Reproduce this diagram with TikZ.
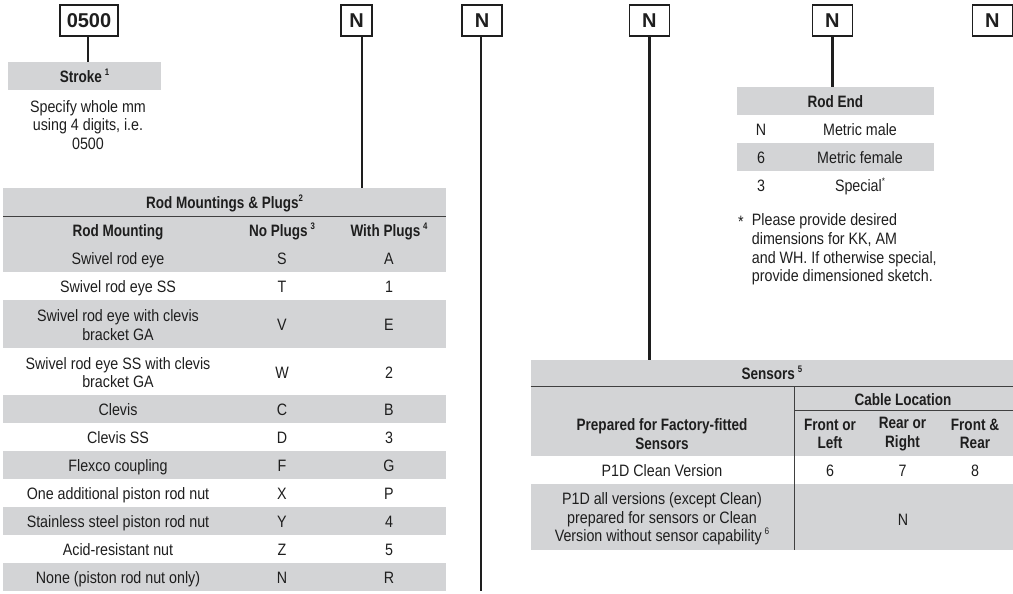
\documentclass[tikz,border=0pt]{standalone}
\usepackage{fontspec}
\setmainfont{Liberation Sans}[FakeStretch=0.865, BoldFeatures={FakeStretch=0.82}]
\newfontfamily\codefont{Liberation Sans}
\definecolor{cellgray}{RGB}{211,212,214}
\definecolor{ink}{RGB}{30,30,30}
\newcommand{\myup}[1]{\raisebox{0.45em}{\fontsize{9.5}{9.5}\selectfont #1}}
\tikzset{
  txt/.style={font=\fontsize{16.5}{18.6}\selectfont, text=ink, inner sep=0pt, align=center},
  btxt/.style={font=\fontsize{16.5}{18.6}\selectfont\bfseries, text=ink, inner sep=0pt, align=center},
  cell/.style={txt, text height=13pt, text depth=0pt},
  bcell/.style={btxt, text height=13pt, text depth=0pt},
  codebox/.style={draw=ink, line width=1.2pt, minimum height=31pt, inner sep=0pt, font=\codefont\fontsize{20}{22}\selectfont\bfseries, text=ink, text height=15pt, text depth=0pt},
  conn/.style={draw=ink, line width=2.6pt},
  sep/.style={draw=ink!85, line width=0.9pt},
  bar/.style={fill=cellgray, inner sep=0pt, bcell}
}
\begin{document}
\begin{tikzpicture}[x=1pt,y=-1pt]
\useasboundingbox (0,0) rectangle (1013,594);

% ---------- code boxes ----------
\node[codebox, minimum width=58pt] (b0500) at (89,20.5) {0500};
\node[codebox, minimum width=31pt] (bN1) at (356.5,20.5) {N};
\node[codebox, minimum width=40pt] (bN2) at (482,20.5) {N};
\node[codebox, minimum width=40pt] (bN3) at (649.3,20.5) {N};
\node[codebox, minimum width=40pt] (bN4) at (832.3,20.5) {N};
\node[codebox, minimum width=40pt] (bN5) at (992.3,20.5) {N};

% ---------- Stroke ----------
\node[bar, minimum width=153pt, minimum height=28pt] (stroke) at (84.5,76) {Stroke\,\myup{1}};
\node[txt] (strokeTxt) at (88,125) {Specify whole mm\\using 4 digits, i.e.\\0500};

% ---------- Rod mountings table ----------
\fill[cellgray] (3.3,188) rectangle (445.7,272);
\fill[cellgray] (3.3,300) rectangle (445.7,347.5);
\fill[cellgray] (3.3,395) rectangle (445.7,423);
\fill[cellgray] (3.3,451) rectangle (445.7,479);
\fill[cellgray] (3.3,507) rectangle (445.7,535);
\fill[cellgray] (3.3,563) rectangle (445.7,591);
\node[bcell, minimum width=442.4pt, minimum height=28pt] (rmtitle) at (224.5,202) {Rod Mountings \& Plugs\myup{2}};
\draw[sep] (rmtitle.south west) -- (rmtitle.south east);
\node[bcell] (h1) at (118,230) {Rod Mounting};
\node[bcell] (h2) at (282,230) {No Plugs\,\myup{3}};
\node[bcell] (h3) at (389,230) {With Plugs\,\myup{4}};

\node[cell] (r1a) at (118,258) {Swivel rod eye};
\node[cell] (r1b) at (282,258) {S};
\node[cell] (r1c) at (389,258) {A};
\node[cell] (r2a) at (118,286) {Swivel rod eye SS};
\node[cell] (r2b) at (282,286) {T};
\node[cell] (r2c) at (389,286) {1};
\node[txt] (r3a) at (118,325) {Swivel rod eye with clevis\\bracket GA};
\node[cell] (r3b) at (282,324) {V};
\node[cell] (r3c) at (389,324) {E};
\node[txt] (r4a) at (118,372.5) {Swivel rod eye SS with clevis\\bracket GA};
\node[cell] (r4b) at (282,371.5) {W};
\node[cell] (r4c) at (389,371.5) {2};
\node[cell] (r5a) at (118,409) {Clevis};
\node[cell] (r5b) at (282,409) {C};
\node[cell] (r5c) at (389,409) {B};
\node[cell] (r6a) at (118,437) {Clevis SS};
\node[cell] (r6b) at (282,437) {D};
\node[cell] (r6c) at (389,437) {3};
\node[cell] (r7a) at (118,465) {Flexco coupling};
\node[cell] (r7b) at (282,465) {F};
\node[cell] (r7c) at (389,465) {G};
\node[cell] (r8a) at (118,493) {One additional piston rod nut};
\node[cell] (r8b) at (282,493) {X};
\node[cell] (r8c) at (389,493) {P};
\node[cell] (r9a) at (118,521) {Stainless steel piston rod nut};
\node[cell] (r9b) at (282,521) {Y};
\node[cell] (r9c) at (389,521) {4};
\node[cell] (r10a) at (118,549) {Acid-resistant nut};
\node[cell] (r10b) at (282,549) {Z};
\node[cell] (r10c) at (389,549) {5};
\node[cell] (r11a) at (118,577) {None (piston rod nut only)};
\node[cell] (r11b) at (282,577) {N};
\node[cell] (r11c) at (389,577) {R};

% ---------- Rod End table ----------
\fill[cellgray] (736.7,143) rectangle (934,171);
\node[bar, minimum width=197.3pt, minimum height=28pt] (rodend) at (835.3,101) {Rod End};
\node[cell] (re1a) at (761,129) {N};
\node[cell] (re1b) at (860,129) {Metric male};
\node[cell] (re2a) at (761,157) {6};
\node[cell] (re2b) at (860,157) {Metric female};
\node[cell] (re3a) at (761,185) {3};
\node[cell] (re3b) at (860,185) {Special\myup{*}};
\node[cell] (star) at (741,221) {*};
\node[txt, align=left, anchor=west] (renote) at (751.7,249.5) {Please provide desired\\dimensions for KK, AM\\and WH. If otherwise special,\\provide dimensioned sketch.};

% ---------- Sensors table ----------
\fill[cellgray] (530.7,360) rectangle (1013,456);
\fill[cellgray] (530.7,484) rectangle (1013,550);
\node[bcell, minimum width=482.3pt, minimum height=26pt] (sens) at (771.85,373) {Sensors\,\myup{5}};
\draw[sep] (sens.south west) -- (sens.south east);
\draw[sep] (794.7,386) -- (794.7,550);
\draw[sep] (794.7,410) -- (1013,410);
\node[bcell] (cl) at (903,398.5) {Cable Location};
\node[btxt] (sh1) at (662,434) {Prepared for Factory-fitted\\Sensors};
\node[btxt] (sh2) at (830,434) {Front or\\Left};
\node[btxt] (sh3) at (902.5,434) {Rear or\\Right};
\node[btxt] (sh4) at (975,434) {Front \&\\Rear};
\node[cell] (s1a) at (662,470) {P1D Clean Version};
\node[cell] (s1b) at (830,470) {6};
\node[cell] (s1c) at (902.5,470) {7};
\node[cell] (s1d) at (975,470) {8};
\node[txt] (s2a) at (662,519) {P1D all versions (except Clean)\\prepared for sensors or Clean\\Version without sensor capability\,\myup{6}};
\node[cell] (s2b) at (903,518.5) {N};

% ---------- connectors ----------
\coordinate (n2end) at (481,591);
\draw[conn] ([xshift=-1pt]b0500.south) -- ([xshift=-1pt]b0500.south |- stroke.north);
\draw[conn] ([xshift=5.5pt]bN1.south) -- ([xshift=5.5pt]bN1.south |- rmtitle.north);
\draw[conn] ([xshift=-1pt]bN2.south) -- (n2end);
\draw[conn] ([xshift=0.4pt]bN3.south) -- ([xshift=0.4pt]bN3.south |- sens.north);
\draw[conn] ([xshift=0.4pt]bN4.south) -- ([xshift=0.4pt]bN4.south |- rodend.north);
\end{tikzpicture}
\end{document}
